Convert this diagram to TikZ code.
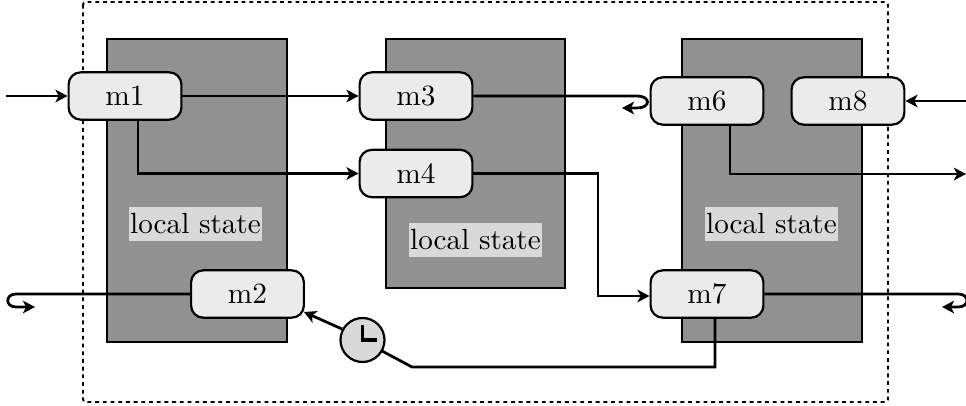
\documentclass[tikz,border=0pt]{standalone}
\usetikzlibrary{arrows.meta,calc}
\tikzset{
  msgbox/.style={draw=black,line width=0.8pt,fill=black!8,rounded corners=4.4pt,minimum width=41pt,minimum height=17.2pt,inner sep=0pt,font=\fontsize{10.7}{13}\selectfont},
  statebox/.style={draw=black,line width=0.7pt,fill=black!43,inner sep=0pt},
  statelabel/.style={fill=black!15,inner xsep=0.6pt,inner ysep=2.4pt,font=\fontsize{10.6}{13}\selectfont},
  conn/.style={line width=1pt,-{Stealth[length=4.4pt,width=4.6pt,inset=1.2pt]}},
  plainconn/.style={line width=1pt},
  clockface/.style={circle,draw=black,line width=0.8pt,fill=black!15,minimum size=16pt,inner sep=0pt}
}
\begin{document}
\begin{tikzpicture}[x=0.3636pt,y=-0.3636pt]
\useasboundingbox (0,0) rectangle (966,406);
\draw[line width=0.7pt,dash pattern=on 1.4pt off 1.4pt,rounded corners=1pt] (83,2) rectangle (888,402);
\node[statebox,minimum width=65.4pt,minimum height=110pt] (s1) at (197,190.5) {};
\node[statebox,minimum width=65.4pt,minimum height=90.5pt] (s2) at (475.5,163.5) {};
\node[statebox,minimum width=65.4pt,minimum height=110pt] (s3) at (772,190.5) {};
\node[statelabel] (l1) at (195.5,224) {local state};
\node[statelabel] (l2) at (475.5,240) {local state};
\node[statelabel] (l3) at (771.5,224) {local state};
\coordinate (in1) at (6,96);
\coordinate (in8) at (966,101);
\coordinate (out6) at (966,174);
\coordinate (m2hit) at (304,312);
\node[msgbox] (m1) at (125,96) {m1};
\node[msgbox] (m2) at (247.5,294) {m2};
\node[msgbox] (m3) at (416,96) {m3};
\node[msgbox] (m4) at (416,173.5) {m4};
\node[msgbox] (m6) at (707,101) {m6};
\node[msgbox] (m7) at (707,294) {m7};
\node[msgbox] (m8) at (848,101) {m8};
\draw[conn] (in1) -- (m1.west);
\draw[conn] (m1.east) -- (m3.west);
\draw[conn] (138,120) |- (m4.west);
\draw[conn] (m4.east) -- (598,173.5) -- (598,296) -- ($(m7.west)+(0,2)$);
\draw[conn] (m8.east -| in8) -- (m8.east);
\draw[conn] (730,125) -- (730,174) -- (out6);
\draw[plainconn] (715,318) -- (715,367) -- (412,367) -- (382,351);
\draw[conn] (342,329) -- (m2hit);
\draw[conn] (m3.east) -- (637,96) .. controls (651,96) and (651,108) .. (637,108) -- (622,108);
\draw[conn] (m2.west) -- (16,294) .. controls (5,294) and (5,307) .. (16,307) -- (35,307);
\draw[conn] (m7.east) -- (958,294) .. controls (970,294) and (970,307) .. (958,307) -- (942,307);
\node[clockface] (clk) at (362.5,340) {};
\draw[line width=1.2pt] ($(clk.center)+(0,-15)$) -- ($(clk.center)+(0,0)$) -- ($(clk.center)+(14,0)$);
\end{tikzpicture}
\end{document}
